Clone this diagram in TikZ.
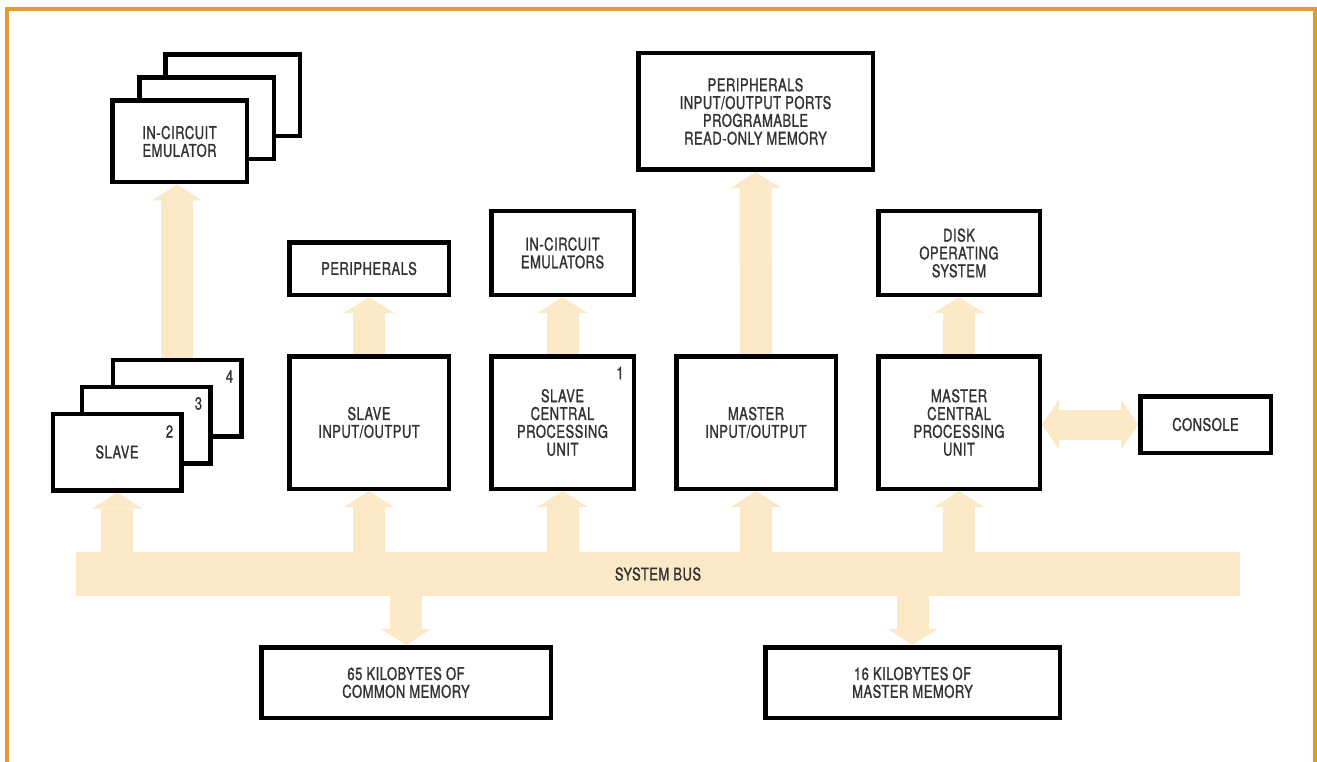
\documentclass[tikz,border=0pt]{standalone}
\usepackage{fontspec}
\setmainfont{TeX Gyre Heros}[FakeStretch=0.74, LetterSpace=3, FakeBold=1.2]
\usetikzlibrary{arrows.meta,backgrounds}
\definecolor{peach}{RGB}{252,233,200}
\definecolor{frameorange}{RGB}{228,155,45}
\definecolor{ink}{RGB}{50,50,50}
\begin{document}
\begin{tikzpicture}[x=1pt,y=-1pt,
  box/.style={draw=black, line width=4.5pt, fill=white, text=ink, align=center, inner sep=0pt, font=\fontsize{17.5}{17.8}\selectfont},
  num/.style={text=ink, inner sep=0pt, font=\fontsize{17.5}{17.8}\selectfont},
  busarrow/.style={draw=peach, line width=32pt, -{Triangle[width=50pt,length=16pt,line width=0pt]}},
  busarrows/.style={draw=peach, line width=30pt, {Triangle[width=50pt,length=17pt,line width=0pt]}-{Triangle[width=50pt,length=17pt,line width=0pt]}},
  busband/.style={fill=peach, text=ink, inner sep=0pt, font=\fontsize{17.5}{17.8}\selectfont}
]
\useasboundingbox (0,0) rectangle (1317,762);

% in-circuit emulator stack
\node[box, minimum width=134.5pt, minimum height=81.5pt] (ice3) at (232.5,95.5) {};
\node[box, minimum width=134.5pt, minimum height=81.5pt] (ice2) at (206.5,118.5) {};
\node[box, minimum width=134.5pt, minimum height=81.5pt] (ice1) at (179.5,141.5) {IN-CIRCUIT\\EMULATOR};

% slave stack
\node[box, minimum width=128.5pt, minimum height=76.5pt] (sl3) at (177,398) {};
\node[box, minimum width=128.5pt, minimum height=76.5pt] (sl2) at (146,425) {};
\node[box, minimum width=128.5pt, minimum height=76.5pt] (sl1) at (117,452) {SLAVE};
\node[num] (n4) at ([shift={(-14,19)}]sl3.north east) {4};
\node[num] (n3) at ([shift={(-14,19)}]sl2.north east) {3};
\node[num] (n2) at ([shift={(-14,20)}]sl1.north east) {2};

\node[box, minimum width=159.5pt, minimum height=52.5pt] (periph) at (369,268.5) {PERIPHERALS};
\node[box, minimum width=159.5pt, minimum height=132.5pt] (sio) at (369,422.5) {SLAVE\\INPUT/OUTPUT};

\node[box, minimum width=142.5pt, minimum height=83.5pt] (ices) at (562.5,253) {IN-CIRCUIT\\EMULATORS};
\node[box, minimum width=142.5pt, minimum height=132.5pt] (scpu) at (562.5,422.5) {SLAVE\\CENTRAL\\PROCESSING\\UNIT};
\node[num] (n1) at ([shift={(-16,19)}]scpu.north east) {1};

\node[box, minimum width=234.5pt, minimum height=116.5pt] (prom) at (755.5,111.5) {PERIPHERALS\\INPUT/OUTPUT PORTS\\PROGRAMABLE\\READ-ONLY MEMORY};
\node[box, minimum width=159.5pt, minimum height=132.5pt] (mio) at (756,422.5) {MASTER\\INPUT/OUTPUT};

\node[box, minimum width=161.5pt, minimum height=83.5pt] (dos) at (959,253) {DISK\\OPERATING\\SYSTEM};
\node[box, minimum width=161.5pt, minimum height=132.5pt] (mcpu) at (959,422.5) {MASTER\\CENTRAL\\PROCESSING\\UNIT};

\node[box, minimum width=130.5pt, minimum height=56.5pt] (console) at (1205.5,424.5) {CONSOLE};

\node[box, minimum width=289.5pt, minimum height=70.5pt] (mem1) at (406,682.5) {65 KILOBYTES OF\\COMMON MEMORY};
\node[box, minimum width=294.5pt, minimum height=70.5pt] (mem2) at (912.5,682.5) {16 KILOBYTES OF\\MASTER MEMORY};

% system bus
\node[busband, minimum width=1164pt, minimum height=44pt] (bus) at (658,574) {SYSTEM BUS};

\begin{pgfonlayer}{background}
  \fill[white] (0,0) rectangle (1317,762);
  \draw[busarrow] (sl1.south |- bus.center) -- (sl1.south);
  \draw[busarrow] (sio.south |- bus.center) -- (sio.south);
  \draw[busarrow] (scpu.south |- bus.center) -- (scpu.south);
  \draw[busarrow] (mio.south |- bus.center) -- (mio.south);
  \draw[busarrow] (mcpu.south |- bus.center) -- (mcpu.south);
  \draw[busarrow] (mem1.north |- bus.center) -- (mem1.north);
  \draw[busarrow] (mem2.north |- bus.center) -- (mem2.north);
  \draw[busarrow] (sl3.north) -- (sl3.north |- ice1.south);
  \draw[busarrow] (sio.north) -- (periph.south);
  \draw[busarrow] (scpu.north) -- (ices.south);
  \draw[busarrow] (mio.north) -- (prom.south);
  \draw[busarrow] (mcpu.north) -- (dos.south);
  \draw[busarrows] (console.west -| mcpu.east) -- (console.west);
\end{pgfonlayer}

% frame
\draw[frameorange, line width=4pt] (7,762) -- (7,9.5) -- (1315,9.5) -- (1315,762);
\end{tikzpicture}
\end{document}
